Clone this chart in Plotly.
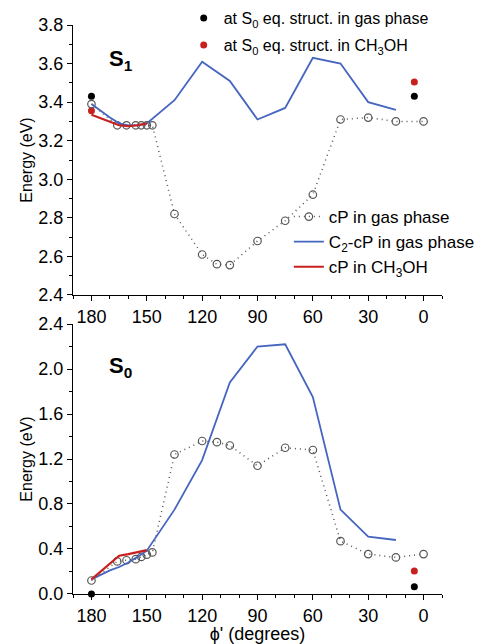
import plotly.graph_objects as go
from plotly.subplots import make_subplots

# cP in gas phase (open circles, dotted)
phi_cp = [180, 166, 161, 156, 153, 150, 147, 135, 120, 112, 105, 90, 75, 60, 45, 30, 15, 0]
s1_cp = [3.39, 3.28, 3.28, 3.28, 3.28, 3.28, 3.28, 2.82, 2.61, 2.56, 2.555, 2.68, 2.785, 2.92, 3.31, 3.32, 3.30, 3.30]
s0_cp = [0.12, 0.29, 0.30, 0.31, 0.33, 0.35, 0.37, 1.24, 1.36, 1.35, 1.32, 1.14, 1.30, 1.28, 0.47, 0.355, 0.325, 0.355]

# C2-cP in gas phase
phi_c2 = [180, 170, 165, 160, 155, 150, 135, 120, 105, 90, 75, 60, 45, 30, 15]
s1_c2 = [3.39, 3.32, 3.29, 3.28, 3.28, 3.29, 3.41, 3.61, 3.51, 3.31, 3.37, 3.63, 3.60, 3.40, 3.36]
s0_c2 = [0.13, 0.21, 0.24, 0.28, 0.33, 0.385, 0.75, 1.19, 1.88, 2.20, 2.22, 1.75, 0.75, 0.51, 0.48]

# cP in CH3OH
phi_me = [180, 170, 165, 160, 155, 150]
s1_me = [3.335, 3.30, 3.28, 3.275, 3.28, 3.29]
s0_me = [0.13, 0.27, 0.34, 0.355, 0.37, 0.39]

# single points at the S0 equilibrium structure
phi_eq_gas = [180, 5]
s1_eq_gas = [3.43, 3.43]
s0_eq_gas = [0.0, 0.065]
phi_eq_me_s1 = [180, 5]
s1_eq_me = [3.355, 3.505]
phi_eq_me_s0 = [5]
s0_eq_me = [0.205]

BLUE = "#4565bf"
RED = "#c8201e"
GRAY = "#555555"
FONT = "Liberation Sans, Arial, sans-serif"
DOTS = "1px,4px"

fig = make_subplots(rows=2, cols=1, vertical_spacing=0.051)

# ---- S1 panel ----
fig.add_trace(go.Scatter(x=phi_eq_gas, y=s1_eq_gas, mode="markers",
                         marker=dict(color="black", size=7),
                         name="at S<sub>0</sub> eq. struct. in gas phase",
                         legend="legend", cliponaxis=False), row=1, col=1)
fig.add_trace(go.Scatter(x=phi_eq_me_s1, y=s1_eq_me, mode="markers",
                         marker=dict(color=RED, size=7),
                         name="at S<sub>0</sub> eq. struct. in CH<sub>3</sub>OH",
                         legend="legend3", cliponaxis=False), row=1, col=1)
fig.add_trace(go.Scatter(x=phi_cp, y=s1_cp, mode="lines+markers",
                         line=dict(color=GRAY, width=1.5, dash=DOTS),
                         marker=dict(symbol="circle-open", size=7.5, color=GRAY, line=dict(width=1.2)),
                         name="cP in gas phase", legend="legend2"), row=1, col=1)
fig.add_trace(go.Scatter(x=phi_c2, y=s1_c2, mode="lines",
                         line=dict(color=BLUE, width=1.8),
                         name="C<sub>2</sub>-cP in gas phase", legend="legend2"), row=1, col=1)
fig.add_trace(go.Scatter(x=phi_me, y=s1_me, mode="lines",
                         line=dict(color=RED, width=2.2),
                         name="cP in CH<sub>3</sub>OH", legend="legend2"), row=1, col=1)

# ---- S0 panel ----
fig.add_trace(go.Scatter(x=phi_cp, y=s0_cp, mode="lines+markers",
                         line=dict(color=GRAY, width=1.5, dash=DOTS),
                         marker=dict(symbol="circle-open", size=7.5, color=GRAY, line=dict(width=1.2)),
                         showlegend=False), row=2, col=1)
fig.add_trace(go.Scatter(x=phi_c2, y=s0_c2, mode="lines",
                         line=dict(color=BLUE, width=1.8), showlegend=False), row=2, col=1)
fig.add_trace(go.Scatter(x=phi_me, y=s0_me, mode="lines",
                         line=dict(color=RED, width=2.2), showlegend=False), row=2, col=1)
fig.add_trace(go.Scatter(x=phi_eq_gas, y=s0_eq_gas, mode="markers",
                         marker=dict(color="black", size=7), showlegend=False,
                         cliponaxis=False), row=2, col=1)
fig.add_trace(go.Scatter(x=phi_eq_me_s0, y=s0_eq_me, mode="markers",
                         marker=dict(color=RED, size=7), showlegend=False,
                         cliponaxis=False), row=2, col=1)

xax = dict(range=[190, -10], tickmode="array", tickvals=[180, 150, 120, 90, 60, 30, 0],
           ticks="outside", ticklen=5, tickwidth=1, tickcolor="black", automargin=False,
           showline=True, linecolor="black", linewidth=1, showgrid=False, zeroline=False,
           minor=dict(tickmode="array", tickvals=[190, 170, 160, 140, 130, 110, 100, 80, 70, 50, 40, 20, 10, -10],
                      ticks="outside", ticklen=3, tickcolor="black", showgrid=False),
           tickfont=dict(family=FONT, size=18, color="black"))
fig.update_xaxes(**xax, row=1, col=1)
fig.update_xaxes(**xax, row=2, col=1)
fig.update_xaxes(title=dict(text="ϕ' (degrees)", font=dict(family=FONT, size=18, color="black"),
                            standoff=2), row=2, col=1)

yax = dict(ticks="outside", ticklen=5, tickwidth=1, tickcolor="black", automargin=False,
           showline=True, linecolor="black", linewidth=1, showgrid=False, zeroline=False,
           tickfont=dict(family=FONT, size=18, color="black"),
           title=dict(text="Energy (eV)", font=dict(family=FONT, size=16, color="black"), standoff=1))
fig.update_yaxes(**yax, range=[2.4, 3.8], dtick=0.2, tick0=2.4, tickformat=".1f",
                 minor=dict(dtick=0.1, ticks="outside", ticklen=3, tickcolor="black", showgrid=False),
                 row=1, col=1)
fig.update_yaxes(**yax, range=[0, 2.4], dtick=0.4, tick0=0, tickformat=".1f",
                 minor=dict(dtick=0.2, ticks="outside", ticklen=3, tickcolor="black", showgrid=False),
                 row=2, col=1)

fig.add_annotation(x=164, y=3.62, xref="x", yref="y", text="<b>S<sub>1</sub></b>",
                   showarrow=False, font=dict(family=FONT, size=22, color="black"))
fig.add_annotation(x=164, y=2.02, xref="x2", yref="y2", text="<b>S<sub>0</sub></b>",
                   showarrow=False, font=dict(family=FONT, size=22, color="black"))

leg_common = dict(xanchor="left", yanchor="middle", bgcolor="rgba(0,0,0,0)",
                  itemwidth=30, tracegroupgap=0)
fig.update_layout(
    width=483, height=644,
    margin=dict(l=73, r=41, t=25, b=50, autoexpand=False),
    plot_bgcolor="white", paper_bgcolor="white",
    font=dict(family=FONT, color="black"),
    legend=dict(x=0.30, y=(594 - 18) / 569, font=dict(family=FONT, size=16, color="black"), **leg_common),
    legend3=dict(x=0.30, y=(594 - 45) / 569, font=dict(family=FONT, size=16, color="black"), **leg_common),
    legend2=dict(x=0.585, y=(594 - 242) / 569, font=dict(family=FONT, size=17, color="black"), **leg_common),
)

fig.write_html("out.html")
